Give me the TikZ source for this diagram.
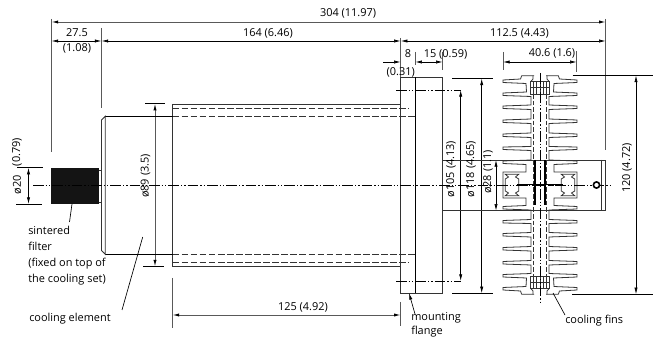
\documentclass[tikz,border=0pt]{standalone}
\usepackage{fontspec}
\setmainfont{Open Sans}
\usetikzlibrary{arrows.meta}

\newcommand{\finquarter}{%
  \draw[bodyline] (534,75.7) -- (521.7,75.7) -- (520.5,79) -- (503,80) -- (503,82.5) -- (526,83.5) -- (526.5,92) -- (503,93) -- (503,95.5) -- (531,96.5)
    -- (531,105) -- (503,106) -- (503,108.5) -- (531,109.5)
    -- (531,119) -- (503,120) -- (503,122.5) -- (531,123.5)
    -- (531,133) -- (503,134) -- (503,136.5) -- (531,137.5)
    -- (531,146.5) -- (503,147) -- (503,149.5) -- (531,150.5)
    -- (531,160) -- (503,161) -- (503,163.5) -- (526,164.5)
    -- (526,172) -- (503,172) -- (503,185);
  \draw[bodyline] (505.3,185) -- (505.3,179) -- (508.5,177) -- (505.3,174.3) -- (518.7,174.3) -- (515.5,177) -- (518.7,179) -- (518.7,185);
  \draw[bodyline, line width=0.7pt] (530.7,94) rectangle (540,81.7);
  \draw[bodyline] (530.7,81.7) -- (533,79) -- (533,75.7);
  \draw[bodyline, line width=0.25pt] (530.7,87.5) -- (540,87.5);
  \foreach \tickx in {533.5,536.5}
    \draw[bodyline, line width=0.25pt] (\tickx,82) -- (\tickx,94);
}

\begin{document}
\begin{tikzpicture}[x=0.75pt, y=-0.75pt,
    lbl/.style={font=\fontsize{8.2}{12}\selectfont, inner sep=0pt},
    dimline/.style={black, line width=0.5pt, {Latex[length=5pt,width=2.4pt]}-{Latex[length=5pt,width=2.4pt]}},
    dimgrey/.style={black!65, line width=0.7pt, {Latex[length=5pt,width=2.4pt,black]}-{Latex[length=5pt,width=2.4pt,black]}},
    endline/.style={black, line width=0.5pt, -{Latex[length=5pt,width=2.4pt]}},
    extline/.style={black!65, line width=0.6pt},
    bodyline/.style={black!80, line width=0.6pt},
    hiddenline/.style={black!80, line width=0.5pt, dash pattern=on 5pt off 1.8pt},
    axisline/.style={black, line width=0.4pt, dash pattern=on 8pt off 1.5pt on 1pt off 1.5pt on 1pt off 1.5pt},
    leader/.style={black, line width=0.5pt}]
    \useasboundingbox (0,0) rectangle (657,338);

    \draw[extline] (51.5,19) -- (51.5,152);
    \draw[extline] (101.5,28) -- (101.5,108);
    \draw[extline] (400.7,38) -- (400.7,77.5);
    \draw[extline] (415.3,52) -- (415.3,65);
    \draw[extline] (442.7,52) -- (442.7,70);
    \draw[extline] (605.7,19) -- (605.7,150);
    \draw[extline] (503,52) -- (503,70);
    \draw[extline] (576.7,51) -- (576.7,72);
    \draw[extline] (172.5,278) -- (172.5,328);
    \draw[extline] (400.7,302) -- (400.7,326);

    \draw[dimgrey] (51.5,22) -- (605.7,22);
    \draw[dimline] (51.5,41) -- (101.5,41);
    \draw[dimline] (101.5,41) -- (400.7,41);
    \draw[dimline] (400.7,41) -- (605.7,41);
    \draw[endline] (383,62) -- (400.7,62);
    \draw[dimline] (415.3,62) -- (442.7,62);
    \draw[dimline] (503,62) -- (576.7,62);
    \draw[dimgrey] (172.5,315) -- (400.7,315);

    \draw[leader] (17,167.7) -- (43,167.7);
    \draw[leader] (16,204) -- (42,204);
    \draw[dimline] (28.5,167.7) -- (28.5,204);
    \draw[leader] (145,103.7) -- (165,103.7);
    \draw[leader] (143,266.5) -- (164,266.5);
    \draw[dimgrey] (155,103.7) -- (155,266.5);
    \draw[dimline] (460.7,90) -- (460.7,281);
    \draw[leader] (452,78.5) -- (493,78.5);
    \draw[leader] (452,293.3) -- (493,293.3);
    \draw[dimline] (481.7,78.5) -- (481.7,293.3);
    \draw[dimline] (496,160) -- (496,210.7);
    \draw[leader] (572.7,75.5) -- (653,75.5);
    \draw[leader] (572,294.3) -- (653,294.3);
    \draw[dimline] (636,75.5) -- (636,294.3);

    \draw[bodyline] (400.7,77.5) rectangle (442.7,293);
    \draw[leader] (415.3,77.5) -- (415.3,293);
    \draw[bodyline] (172.5,104.5) -- (400.7,104.5);
    \draw[bodyline] (172.5,266.6) -- (400.7,266.6);
    \draw[bodyline] (172.5,104.5) -- (172.5,266.6);
    \draw[leader] (105.3,116.2) -- (172.5,116.2);
    \draw[leader] (105.3,254.3) -- (172.5,254.3);
    \draw[bodyline] (105.3,116.2) -- (101.5,120) -- (101.5,250.5) -- (105.3,254.3) -- cycle;
    \draw[hiddenline] (172.5,108.3) -- (409,108.3);
    \draw[hiddenline] (172.5,116.2) -- (415.3,116.2);
    \draw[hiddenline] (172.5,254.3) -- (415.3,254.3);
    \draw[hiddenline] (172.5,262.7) -- (409,262.7);

    \draw[bodyline] (98.7,170) rectangle (101.5,202);
    \fill[black!92] (51,167.7) rectangle (98.7,204);

    \foreach \sx/\mx/\sy/\my in {0/1/0/1, 1080/-1/0/1, 0/1/370/-1, 1080/-1/370/-1} {
      \begin{scope}[shift={(\sx,\sy)}, xscale=\mx, yscale=\my]
        \finquarter
      \end{scope}
    }
    \draw[bodyline] (442.7,160) -- (605.7,160) -- (605.7,210.7) -- (442.7,210.7);
    \draw[bodyline] (601.7,160) -- (601.7,210.7);
    \foreach \slotx in {533.5,546.3}
      \draw[hiddenline, line width=0.4pt, dash pattern=on 3.5pt off 1.5pt] (\slotx,94) -- (\slotx,276);
    \foreach \slotx in {534.8,545.2}
      \draw[black, line width=1.1pt] (\slotx,160) -- (\slotx,205);
    \draw[black, line width=1.8pt] (517,185) -- (563,185);
    \draw[white, line width=0.5pt, dash pattern=on 1pt off 1pt] (517,185) -- (563,185);

    \draw[axisline] (33,185) -- (612,185);
    \draw[axisline] (396,90) -- (460.7,90);
    \draw[axisline] (396,281) -- (460.7,281);
    \draw[axisline] (540,73) -- (540,303);
    \draw[black, line width=1.2pt, fill=white] (596.5,185) circle (3.1);

    \node[lbl] (l304) at (348,13) {304 (11.97)};
    \node[lbl] (l164) at (268,33) {164 (6.46)};
    \node[lbl] (l275) at (77,33) {27.5};
    \node[lbl] (l108) at (77,48) {(1.08)};
    \node[lbl] (l1125) at (519.5,33) {112.5 (4.43)};
    \node[lbl] (l8) at (408,54) {8};
    \node[lbl] (l15) at (445.5,54) {15 (0.59)};
    \node[lbl] (l031) at (400.7,72.7) {(0.31)};
    \node[lbl] (l406) at (552,53) {40.6 (1.6)};
    \node[lbl] (l125) at (303,307) {125 (4.92)};
    \node[lbl, rotate=90] (l079) at (17,152) {(0.79)};
    \node[lbl, rotate=90] (l20) at (17,185) {ø20};
    \node[lbl, rotate=90] (l89) at (145.5,176) {ø89 (3.5)};
    \node[lbl, rotate=90] (l105) at (451,169) {ø105 (4.13)};
    \node[lbl, rotate=90] (l118) at (471,169) {ø118 (4.65)};
    \node[lbl, rotate=90] (l28) at (488,172) {ø28 (1.1)};
    \node[lbl, rotate=90] (l120) at (627,168) {120 (4.72)};

    \node[lbl, anchor=north west, align=left] (filter) at (28,226) {sintered\\filter\\(fixed on top of\\the cooling set)};
    \node[lbl, anchor=west] (element) at (29,319) {cooling element};
    \node[lbl, anchor=north west, align=left, font=\fontsize{8.2}{10.5}\selectfont] (flange) at (411,312) {mounting\\flange};
    \node[lbl, anchor=west] (fins) at (565,321) {cooling fins};

    \coordinate (filterend) at (72,204);
    \coordinate (elementend) at (142.7,237);
    \coordinate (flangeend) at (409,293);
    \coordinate (finsend) at (553,293);
    \draw[leader] (filterend) -- (69.5,222);
    \draw[leader] (elementend) -- (122,310);
    \draw[endline] (415,314) -- (flangeend);
    \draw[leader] (finsend) -- (565,315);
\end{tikzpicture}
\end{document}
